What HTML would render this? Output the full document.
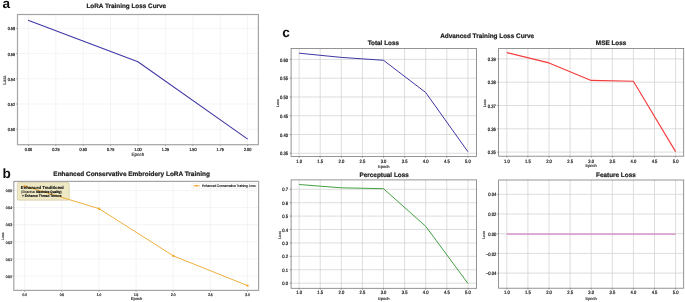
<!DOCTYPE html><html><head><meta charset="utf-8"><style>html,body{margin:0;padding:0;background:#fff;overflow:hidden;}svg{display:block;will-change:transform;text-rendering:geometricPrecision;}</style></head><body>
<svg width="685" height="302" viewBox="0 0 685 302" font-family="'Liberation Sans', sans-serif">
<rect width="685" height="302" fill="#fff"/>
<line x1="28.40" y1="14.50" x2="28.40" y2="144.70" stroke="#ececec" stroke-width="0.6" />
<line x1="55.80" y1="14.50" x2="55.80" y2="144.70" stroke="#ececec" stroke-width="0.6" />
<line x1="83.20" y1="14.50" x2="83.20" y2="144.70" stroke="#ececec" stroke-width="0.6" />
<line x1="110.60" y1="14.50" x2="110.60" y2="144.70" stroke="#ececec" stroke-width="0.6" />
<line x1="138.00" y1="14.50" x2="138.00" y2="144.70" stroke="#ececec" stroke-width="0.6" />
<line x1="165.40" y1="14.50" x2="165.40" y2="144.70" stroke="#ececec" stroke-width="0.6" />
<line x1="192.80" y1="14.50" x2="192.80" y2="144.70" stroke="#ececec" stroke-width="0.6" />
<line x1="220.20" y1="14.50" x2="220.20" y2="144.70" stroke="#ececec" stroke-width="0.6" />
<line x1="247.60" y1="14.50" x2="247.60" y2="144.70" stroke="#ececec" stroke-width="0.6" />
<line x1="17.50" y1="28.40" x2="258.40" y2="28.40" stroke="#ececec" stroke-width="0.6" />
<line x1="17.50" y1="53.60" x2="258.40" y2="53.60" stroke="#ececec" stroke-width="0.6" />
<line x1="17.50" y1="78.80" x2="258.40" y2="78.80" stroke="#ececec" stroke-width="0.6" />
<line x1="17.50" y1="104.00" x2="258.40" y2="104.00" stroke="#ececec" stroke-width="0.6" />
<line x1="17.50" y1="129.20" x2="258.40" y2="129.20" stroke="#ececec" stroke-width="0.6" />
<line x1="28.40" y1="144.70" x2="28.40" y2="146.00" stroke="#555" stroke-width="0.6" />
<line x1="55.80" y1="144.70" x2="55.80" y2="146.00" stroke="#555" stroke-width="0.6" />
<line x1="83.20" y1="144.70" x2="83.20" y2="146.00" stroke="#555" stroke-width="0.6" />
<line x1="110.60" y1="144.70" x2="110.60" y2="146.00" stroke="#555" stroke-width="0.6" />
<line x1="138.00" y1="144.70" x2="138.00" y2="146.00" stroke="#555" stroke-width="0.6" />
<line x1="165.40" y1="144.70" x2="165.40" y2="146.00" stroke="#555" stroke-width="0.6" />
<line x1="192.80" y1="144.70" x2="192.80" y2="146.00" stroke="#555" stroke-width="0.6" />
<line x1="220.20" y1="144.70" x2="220.20" y2="146.00" stroke="#555" stroke-width="0.6" />
<line x1="247.60" y1="144.70" x2="247.60" y2="146.00" stroke="#555" stroke-width="0.6" />
<line x1="16.20" y1="28.40" x2="17.50" y2="28.40" stroke="#555" stroke-width="0.6" />
<line x1="16.20" y1="53.60" x2="17.50" y2="53.60" stroke="#555" stroke-width="0.6" />
<line x1="16.20" y1="78.80" x2="17.50" y2="78.80" stroke="#555" stroke-width="0.6" />
<line x1="16.20" y1="104.00" x2="17.50" y2="104.00" stroke="#555" stroke-width="0.6" />
<line x1="16.20" y1="129.20" x2="17.50" y2="129.20" stroke="#555" stroke-width="0.6" />
<text x="0" y="0" transform="translate(28.40,150.90) scale(0.86,1)" font-size="4.4" text-anchor="middle" font-weight="normal" fill="#111" stroke="#111" stroke-width="0.2" >0.00</text>
<text x="0" y="0" transform="translate(55.80,150.90) scale(0.86,1)" font-size="4.4" text-anchor="middle" font-weight="normal" fill="#111" stroke="#111" stroke-width="0.2" >0.25</text>
<text x="0" y="0" transform="translate(83.20,150.90) scale(0.86,1)" font-size="4.4" text-anchor="middle" font-weight="normal" fill="#111" stroke="#111" stroke-width="0.2" >0.50</text>
<text x="0" y="0" transform="translate(110.60,150.90) scale(0.86,1)" font-size="4.4" text-anchor="middle" font-weight="normal" fill="#111" stroke="#111" stroke-width="0.2" >0.75</text>
<text x="0" y="0" transform="translate(138.00,150.90) scale(0.86,1)" font-size="4.4" text-anchor="middle" font-weight="normal" fill="#111" stroke="#111" stroke-width="0.2" >1.00</text>
<text x="0" y="0" transform="translate(165.40,150.90) scale(0.86,1)" font-size="4.4" text-anchor="middle" font-weight="normal" fill="#111" stroke="#111" stroke-width="0.2" >1.25</text>
<text x="0" y="0" transform="translate(192.80,150.90) scale(0.86,1)" font-size="4.4" text-anchor="middle" font-weight="normal" fill="#111" stroke="#111" stroke-width="0.2" >1.50</text>
<text x="0" y="0" transform="translate(220.20,150.90) scale(0.86,1)" font-size="4.4" text-anchor="middle" font-weight="normal" fill="#111" stroke="#111" stroke-width="0.2" >1.75</text>
<text x="0" y="0" transform="translate(247.60,150.90) scale(0.86,1)" font-size="4.4" text-anchor="middle" font-weight="normal" fill="#111" stroke="#111" stroke-width="0.2" >2.00</text>
<text x="0" y="0" transform="translate(15.00,30.38) scale(0.86,1)" font-size="4.4" text-anchor="end" font-weight="normal" fill="#111" stroke="#111" stroke-width="0.2" >0.58</text>
<text x="0" y="0" transform="translate(15.00,55.58) scale(0.86,1)" font-size="4.4" text-anchor="end" font-weight="normal" fill="#111" stroke="#111" stroke-width="0.2" >0.56</text>
<text x="0" y="0" transform="translate(15.00,80.78) scale(0.86,1)" font-size="4.4" text-anchor="end" font-weight="normal" fill="#111" stroke="#111" stroke-width="0.2" >0.54</text>
<text x="0" y="0" transform="translate(15.00,105.98) scale(0.86,1)" font-size="4.4" text-anchor="end" font-weight="normal" fill="#111" stroke="#111" stroke-width="0.2" >0.52</text>
<text x="0" y="0" transform="translate(15.00,131.18) scale(0.86,1)" font-size="4.4" text-anchor="end" font-weight="normal" fill="#111" stroke="#111" stroke-width="0.2" >0.50</text>
<rect x="17.50" y="14.50" width="240.90" height="130.20" fill="none" stroke="#a4a4a4" stroke-width="1.2"/>
<polyline points="28.10,20.30 137.90,61.70 247.70,139.10" fill="none" stroke="#3f37a4" stroke-width="1.05" stroke-linejoin="round" stroke-linecap="butt" />
<text x="126.30" y="8.00" font-size="6.37" text-anchor="middle" font-weight="bold" fill="#1a1a1a" stroke="#1a1a1a" stroke-width="0.2" >LoRA Training Loss Curve</text>
<text x="137.80" y="156.30" font-size="4.5" text-anchor="middle" font-weight="normal" fill="#2a2a2a" stroke="#2a2a2a" stroke-width="0.15" >Epoch</text>
<text x="0.00" y="0.00" font-size="4.5" text-anchor="middle" font-weight="normal" fill="#333" stroke="#333" stroke-width="0.13" transform="translate(5.6,80.1) rotate(-90) scale(0.92,1)">Loss</text>
<text x="2.50" y="8.00" font-size="13.6" text-anchor="start" font-weight="bold" fill="#111" >a</text>
<line x1="24.70" y1="181.40" x2="24.70" y2="290.40" stroke="#ececec" stroke-width="0.6" />
<line x1="61.83" y1="181.40" x2="61.83" y2="290.40" stroke="#ececec" stroke-width="0.6" />
<line x1="98.96" y1="181.40" x2="98.96" y2="290.40" stroke="#ececec" stroke-width="0.6" />
<line x1="136.09" y1="181.40" x2="136.09" y2="290.40" stroke="#ececec" stroke-width="0.6" />
<line x1="173.22" y1="181.40" x2="173.22" y2="290.40" stroke="#ececec" stroke-width="0.6" />
<line x1="210.35" y1="181.40" x2="210.35" y2="290.40" stroke="#ececec" stroke-width="0.6" />
<line x1="247.48" y1="181.40" x2="247.48" y2="290.40" stroke="#ececec" stroke-width="0.6" />
<line x1="13.80" y1="190.50" x2="258.60" y2="190.50" stroke="#ececec" stroke-width="0.6" />
<line x1="13.80" y1="207.60" x2="258.60" y2="207.60" stroke="#ececec" stroke-width="0.6" />
<line x1="13.80" y1="224.70" x2="258.60" y2="224.70" stroke="#ececec" stroke-width="0.6" />
<line x1="13.80" y1="241.80" x2="258.60" y2="241.80" stroke="#ececec" stroke-width="0.6" />
<line x1="13.80" y1="258.90" x2="258.60" y2="258.90" stroke="#ececec" stroke-width="0.6" />
<line x1="13.80" y1="276.00" x2="258.60" y2="276.00" stroke="#ececec" stroke-width="0.6" />
<line x1="24.70" y1="290.40" x2="24.70" y2="291.70" stroke="#555" stroke-width="0.6" />
<line x1="61.83" y1="290.40" x2="61.83" y2="291.70" stroke="#555" stroke-width="0.6" />
<line x1="98.96" y1="290.40" x2="98.96" y2="291.70" stroke="#555" stroke-width="0.6" />
<line x1="136.09" y1="290.40" x2="136.09" y2="291.70" stroke="#555" stroke-width="0.6" />
<line x1="173.22" y1="290.40" x2="173.22" y2="291.70" stroke="#555" stroke-width="0.6" />
<line x1="210.35" y1="290.40" x2="210.35" y2="291.70" stroke="#555" stroke-width="0.6" />
<line x1="247.48" y1="290.40" x2="247.48" y2="291.70" stroke="#555" stroke-width="0.6" />
<line x1="12.50" y1="190.50" x2="13.80" y2="190.50" stroke="#555" stroke-width="0.6" />
<line x1="12.50" y1="207.60" x2="13.80" y2="207.60" stroke="#555" stroke-width="0.6" />
<line x1="12.50" y1="224.70" x2="13.80" y2="224.70" stroke="#555" stroke-width="0.6" />
<line x1="12.50" y1="241.80" x2="13.80" y2="241.80" stroke="#555" stroke-width="0.6" />
<line x1="12.50" y1="258.90" x2="13.80" y2="258.90" stroke="#555" stroke-width="0.6" />
<line x1="12.50" y1="276.00" x2="13.80" y2="276.00" stroke="#555" stroke-width="0.6" />
<text x="0" y="0" transform="translate(24.70,295.60) scale(0.86,1)" font-size="3.7" text-anchor="middle" font-weight="normal" fill="#111" stroke="#111" stroke-width="0.2" >0.0</text>
<text x="0" y="0" transform="translate(61.83,295.60) scale(0.86,1)" font-size="3.7" text-anchor="middle" font-weight="normal" fill="#111" stroke="#111" stroke-width="0.2" >0.5</text>
<text x="0" y="0" transform="translate(98.96,295.60) scale(0.86,1)" font-size="3.7" text-anchor="middle" font-weight="normal" fill="#111" stroke="#111" stroke-width="0.2" >1.0</text>
<text x="0" y="0" transform="translate(136.09,295.60) scale(0.86,1)" font-size="3.7" text-anchor="middle" font-weight="normal" fill="#111" stroke="#111" stroke-width="0.2" >1.5</text>
<text x="0" y="0" transform="translate(173.22,295.60) scale(0.86,1)" font-size="3.7" text-anchor="middle" font-weight="normal" fill="#111" stroke="#111" stroke-width="0.2" >2.0</text>
<text x="0" y="0" transform="translate(210.35,295.60) scale(0.86,1)" font-size="3.7" text-anchor="middle" font-weight="normal" fill="#111" stroke="#111" stroke-width="0.2" >2.5</text>
<text x="0" y="0" transform="translate(247.48,295.60) scale(0.86,1)" font-size="3.7" text-anchor="middle" font-weight="normal" fill="#111" stroke="#111" stroke-width="0.2" >3.0</text>
<text x="0" y="0" transform="translate(11.90,192.23) scale(0.86,1)" font-size="3.7" text-anchor="end" font-weight="normal" fill="#111" stroke="#111" stroke-width="0.2" >0.55</text>
<text x="0" y="0" transform="translate(11.90,209.33) scale(0.86,1)" font-size="3.7" text-anchor="end" font-weight="normal" fill="#111" stroke="#111" stroke-width="0.2" >0.54</text>
<text x="0" y="0" transform="translate(11.90,226.43) scale(0.86,1)" font-size="3.7" text-anchor="end" font-weight="normal" fill="#111" stroke="#111" stroke-width="0.2" >0.53</text>
<text x="0" y="0" transform="translate(11.90,243.53) scale(0.86,1)" font-size="3.7" text-anchor="end" font-weight="normal" fill="#111" stroke="#111" stroke-width="0.2" >0.52</text>
<text x="0" y="0" transform="translate(11.90,260.63) scale(0.86,1)" font-size="3.7" text-anchor="end" font-weight="normal" fill="#111" stroke="#111" stroke-width="0.2" >0.51</text>
<text x="0" y="0" transform="translate(11.90,277.73) scale(0.86,1)" font-size="3.7" text-anchor="end" font-weight="normal" fill="#111" stroke="#111" stroke-width="0.2" >0.50</text>
<rect x="13.80" y="181.40" width="244.80" height="109.00" fill="none" stroke="#a4a4a4" stroke-width="1.2"/>
<rect x="17.3" y="182.6" width="52" height="17.6" rx="1.2" fill="#efe8c4" stroke="#cfc6a0" stroke-width="0.6"/>
<polyline points="24.60,186.10 99.10,208.70 173.40,255.90 247.50,285.60" fill="none" stroke="#efab35" stroke-width="0.95" stroke-linejoin="round" stroke-linecap="butt" />
<circle cx="24.6" cy="186.1" r="1.2" fill="#efab35"/>
<circle cx="99.1" cy="208.7" r="1.2" fill="#efab35"/>
<circle cx="173.4" cy="255.9" r="1.2" fill="#efab35"/>
<circle cx="247.5" cy="285.6" r="1.2" fill="#efab35"/>
<text x="131.60" y="175.50" font-size="6.46" text-anchor="middle" font-weight="bold" fill="#1a1a1a" stroke="#1a1a1a" stroke-width="0.2" >Enhanced Conservative Embroidery LoRA Training</text>
<text x="136.50" y="300.00" font-size="4.1" text-anchor="middle" font-weight="normal" fill="#2a2a2a" stroke="#2a2a2a" stroke-width="0.15" >Epoch</text>
<text x="0.00" y="0.00" font-size="3.5" text-anchor="middle" font-weight="normal" fill="#333" stroke="#333" stroke-width="0.15" transform="translate(4.1,236.3) rotate(-90)">Loss</text>
<text x="2.40" y="178.00" font-size="13.6" text-anchor="start" font-weight="bold" fill="#111" >b</text>
<text x="42.30" y="189.20" font-size="4.25" text-anchor="middle" font-weight="bold" fill="#111" stroke="#111" stroke-width="0.12">Enhanced Traditional</text>
<text x="0" y="0" transform="translate(41.3,193.35) scale(0.87,1)" font-size="3.45" text-anchor="middle" fill="#222" stroke="#222" stroke-width="0.1"><tspan font-weight="normal">(Objective: </tspan><tspan font-weight="bold" stroke-width="0.2" fill="#111" stroke="#111">Maximize Quality)</tspan></text>
<text x="0" y="0" transform="translate(41.70,197.00) scale(0.885,1)" font-size="3.6" text-anchor="middle" font-weight="bold" fill="#1a1a1a" stroke="#1a1a1a" stroke-width="0.14">+ Enhance Thread Texture</text>
<rect x="192" y="183.4" width="64.9" height="5" rx="0.6" fill="#fff" fill-opacity="0.9" stroke="#e4e4e4" stroke-width="0.4"/>
<line x1="193.20" y1="185.80" x2="199.80" y2="185.80" stroke="#efab35" stroke-width="1.0" />
<circle cx="196.5" cy="185.8" r="1.0" fill="#efab35"/>
<text x="0" y="0" transform="translate(201.90,186.80) scale(0.885,1)" font-size="3.6" text-anchor="start" font-weight="normal" fill="#222" stroke="#222" stroke-width="0.15" >Enhanced Conservative Training Loss</text>
<text x="282.30" y="37.30" font-size="13.6" text-anchor="start" font-weight="bold" fill="#111" >c</text>
<text x="487.20" y="37.60" font-size="6.42" text-anchor="middle" font-weight="bold" fill="#1a1a1a" stroke="#1a1a1a" stroke-width="0.2" >Advanced Training Loss Curve</text>
<line x1="299.10" y1="48.40" x2="299.10" y2="156.40" stroke="#d2d2d2" stroke-width="0.75" />
<line x1="320.20" y1="48.40" x2="320.20" y2="156.40" stroke="#d2d2d2" stroke-width="0.75" />
<line x1="341.30" y1="48.40" x2="341.30" y2="156.40" stroke="#d2d2d2" stroke-width="0.75" />
<line x1="362.40" y1="48.40" x2="362.40" y2="156.40" stroke="#d2d2d2" stroke-width="0.75" />
<line x1="383.50" y1="48.40" x2="383.50" y2="156.40" stroke="#d2d2d2" stroke-width="0.75" />
<line x1="404.60" y1="48.40" x2="404.60" y2="156.40" stroke="#d2d2d2" stroke-width="0.75" />
<line x1="425.70" y1="48.40" x2="425.70" y2="156.40" stroke="#d2d2d2" stroke-width="0.75" />
<line x1="446.80" y1="48.40" x2="446.80" y2="156.40" stroke="#d2d2d2" stroke-width="0.75" />
<line x1="467.90" y1="48.40" x2="467.90" y2="156.40" stroke="#d2d2d2" stroke-width="0.75" />
<line x1="291.10" y1="59.40" x2="476.40" y2="59.40" stroke="#d2d2d2" stroke-width="0.75" />
<line x1="291.10" y1="78.18" x2="476.40" y2="78.18" stroke="#d2d2d2" stroke-width="0.75" />
<line x1="291.10" y1="96.96" x2="476.40" y2="96.96" stroke="#d2d2d2" stroke-width="0.75" />
<line x1="291.10" y1="115.74" x2="476.40" y2="115.74" stroke="#d2d2d2" stroke-width="0.75" />
<line x1="291.10" y1="134.52" x2="476.40" y2="134.52" stroke="#d2d2d2" stroke-width="0.75" />
<line x1="291.10" y1="153.30" x2="476.40" y2="153.30" stroke="#d2d2d2" stroke-width="0.75" />
<line x1="299.10" y1="156.40" x2="299.10" y2="157.70" stroke="#444" stroke-width="0.6" />
<line x1="320.20" y1="156.40" x2="320.20" y2="157.70" stroke="#444" stroke-width="0.6" />
<line x1="341.30" y1="156.40" x2="341.30" y2="157.70" stroke="#444" stroke-width="0.6" />
<line x1="362.40" y1="156.40" x2="362.40" y2="157.70" stroke="#444" stroke-width="0.6" />
<line x1="383.50" y1="156.40" x2="383.50" y2="157.70" stroke="#444" stroke-width="0.6" />
<line x1="404.60" y1="156.40" x2="404.60" y2="157.70" stroke="#444" stroke-width="0.6" />
<line x1="425.70" y1="156.40" x2="425.70" y2="157.70" stroke="#444" stroke-width="0.6" />
<line x1="446.80" y1="156.40" x2="446.80" y2="157.70" stroke="#444" stroke-width="0.6" />
<line x1="467.90" y1="156.40" x2="467.90" y2="157.70" stroke="#444" stroke-width="0.6" />
<line x1="289.80" y1="59.40" x2="291.10" y2="59.40" stroke="#444" stroke-width="0.6" />
<line x1="289.80" y1="78.18" x2="291.10" y2="78.18" stroke="#444" stroke-width="0.6" />
<line x1="289.80" y1="96.96" x2="291.10" y2="96.96" stroke="#444" stroke-width="0.6" />
<line x1="289.80" y1="115.74" x2="291.10" y2="115.74" stroke="#444" stroke-width="0.6" />
<line x1="289.80" y1="134.52" x2="291.10" y2="134.52" stroke="#444" stroke-width="0.6" />
<line x1="289.80" y1="153.30" x2="291.10" y2="153.30" stroke="#444" stroke-width="0.6" />
<text x="0" y="0" transform="translate(299.10,162.80) scale(0.86,1)" font-size="4.8" text-anchor="middle" font-weight="normal" fill="#111" stroke="#111" stroke-width="0.2" >1.0</text>
<text x="0" y="0" transform="translate(320.20,162.80) scale(0.86,1)" font-size="4.8" text-anchor="middle" font-weight="normal" fill="#111" stroke="#111" stroke-width="0.2" >1.5</text>
<text x="0" y="0" transform="translate(341.30,162.80) scale(0.86,1)" font-size="4.8" text-anchor="middle" font-weight="normal" fill="#111" stroke="#111" stroke-width="0.2" >2.0</text>
<text x="0" y="0" transform="translate(362.40,162.80) scale(0.86,1)" font-size="4.8" text-anchor="middle" font-weight="normal" fill="#111" stroke="#111" stroke-width="0.2" >2.5</text>
<text x="0" y="0" transform="translate(383.50,162.80) scale(0.86,1)" font-size="4.8" text-anchor="middle" font-weight="normal" fill="#111" stroke="#111" stroke-width="0.2" >3.0</text>
<text x="0" y="0" transform="translate(404.60,162.80) scale(0.86,1)" font-size="4.8" text-anchor="middle" font-weight="normal" fill="#111" stroke="#111" stroke-width="0.2" >3.5</text>
<text x="0" y="0" transform="translate(425.70,162.80) scale(0.86,1)" font-size="4.8" text-anchor="middle" font-weight="normal" fill="#111" stroke="#111" stroke-width="0.2" >4.0</text>
<text x="0" y="0" transform="translate(446.80,162.80) scale(0.86,1)" font-size="4.8" text-anchor="middle" font-weight="normal" fill="#111" stroke="#111" stroke-width="0.2" >4.5</text>
<text x="0" y="0" transform="translate(467.90,162.80) scale(0.86,1)" font-size="4.8" text-anchor="middle" font-weight="normal" fill="#111" stroke="#111" stroke-width="0.2" >5.0</text>
<text x="0" y="0" transform="translate(288.00,61.53) scale(0.86,1)" font-size="4.8" text-anchor="end" font-weight="normal" fill="#111" stroke="#111" stroke-width="0.2" >0.60</text>
<text x="0" y="0" transform="translate(288.00,80.31) scale(0.86,1)" font-size="4.8" text-anchor="end" font-weight="normal" fill="#111" stroke="#111" stroke-width="0.2" >0.55</text>
<text x="0" y="0" transform="translate(288.00,99.09) scale(0.86,1)" font-size="4.8" text-anchor="end" font-weight="normal" fill="#111" stroke="#111" stroke-width="0.2" >0.50</text>
<text x="0" y="0" transform="translate(288.00,117.87) scale(0.86,1)" font-size="4.8" text-anchor="end" font-weight="normal" fill="#111" stroke="#111" stroke-width="0.2" >0.45</text>
<text x="0" y="0" transform="translate(288.00,136.65) scale(0.86,1)" font-size="4.8" text-anchor="end" font-weight="normal" fill="#111" stroke="#111" stroke-width="0.2" >0.40</text>
<text x="0" y="0" transform="translate(288.00,155.43) scale(0.86,1)" font-size="4.8" text-anchor="end" font-weight="normal" fill="#111" stroke="#111" stroke-width="0.2" >0.35</text>
<rect x="291.10" y="48.40" width="185.30" height="108.00" fill="none" stroke="#7a7a7a" stroke-width="0.8"/>
<polyline points="299.10,53.20 341.30,57.40 383.50,60.30 425.70,92.50 467.90,151.70" fill="none" stroke="#3f37a4" stroke-width="1.0" stroke-linejoin="round" stroke-linecap="butt" />
<text x="383.35" y="44.60" font-size="6.38" text-anchor="middle" font-weight="bold" fill="#1a1a1a" stroke="#1a1a1a" stroke-width="0.2" >Total Loss</text>
<text x="383.75" y="167.60" font-size="4.0" text-anchor="middle" font-weight="normal" fill="#2a2a2a" stroke="#2a2a2a" stroke-width="0.15" >Epoch</text>
<text x="0.00" y="0.00" font-size="3.8" text-anchor="middle" font-weight="normal" fill="#333" stroke="#333" stroke-width="0.12" transform="translate(278.60,103.20) rotate(-90)">Loss</text>
<line x1="506.80" y1="48.40" x2="506.80" y2="156.20" stroke="#d2d2d2" stroke-width="0.75" />
<line x1="527.90" y1="48.40" x2="527.90" y2="156.20" stroke="#d2d2d2" stroke-width="0.75" />
<line x1="549.00" y1="48.40" x2="549.00" y2="156.20" stroke="#d2d2d2" stroke-width="0.75" />
<line x1="570.10" y1="48.40" x2="570.10" y2="156.20" stroke="#d2d2d2" stroke-width="0.75" />
<line x1="591.20" y1="48.40" x2="591.20" y2="156.20" stroke="#d2d2d2" stroke-width="0.75" />
<line x1="612.30" y1="48.40" x2="612.30" y2="156.20" stroke="#d2d2d2" stroke-width="0.75" />
<line x1="633.40" y1="48.40" x2="633.40" y2="156.20" stroke="#d2d2d2" stroke-width="0.75" />
<line x1="654.50" y1="48.40" x2="654.50" y2="156.20" stroke="#d2d2d2" stroke-width="0.75" />
<line x1="675.60" y1="48.40" x2="675.60" y2="156.20" stroke="#d2d2d2" stroke-width="0.75" />
<line x1="498.60" y1="58.90" x2="683.70" y2="58.90" stroke="#d2d2d2" stroke-width="0.75" />
<line x1="498.60" y1="82.20" x2="683.70" y2="82.20" stroke="#d2d2d2" stroke-width="0.75" />
<line x1="498.60" y1="105.50" x2="683.70" y2="105.50" stroke="#d2d2d2" stroke-width="0.75" />
<line x1="498.60" y1="128.80" x2="683.70" y2="128.80" stroke="#d2d2d2" stroke-width="0.75" />
<line x1="498.60" y1="152.10" x2="683.70" y2="152.10" stroke="#d2d2d2" stroke-width="0.75" />
<line x1="506.80" y1="156.20" x2="506.80" y2="157.50" stroke="#444" stroke-width="0.6" />
<line x1="527.90" y1="156.20" x2="527.90" y2="157.50" stroke="#444" stroke-width="0.6" />
<line x1="549.00" y1="156.20" x2="549.00" y2="157.50" stroke="#444" stroke-width="0.6" />
<line x1="570.10" y1="156.20" x2="570.10" y2="157.50" stroke="#444" stroke-width="0.6" />
<line x1="591.20" y1="156.20" x2="591.20" y2="157.50" stroke="#444" stroke-width="0.6" />
<line x1="612.30" y1="156.20" x2="612.30" y2="157.50" stroke="#444" stroke-width="0.6" />
<line x1="633.40" y1="156.20" x2="633.40" y2="157.50" stroke="#444" stroke-width="0.6" />
<line x1="654.50" y1="156.20" x2="654.50" y2="157.50" stroke="#444" stroke-width="0.6" />
<line x1="675.60" y1="156.20" x2="675.60" y2="157.50" stroke="#444" stroke-width="0.6" />
<line x1="497.30" y1="58.90" x2="498.60" y2="58.90" stroke="#444" stroke-width="0.6" />
<line x1="497.30" y1="82.20" x2="498.60" y2="82.20" stroke="#444" stroke-width="0.6" />
<line x1="497.30" y1="105.50" x2="498.60" y2="105.50" stroke="#444" stroke-width="0.6" />
<line x1="497.30" y1="128.80" x2="498.60" y2="128.80" stroke="#444" stroke-width="0.6" />
<line x1="497.30" y1="152.10" x2="498.60" y2="152.10" stroke="#444" stroke-width="0.6" />
<text x="0" y="0" transform="translate(506.80,162.60) scale(0.86,1)" font-size="4.8" text-anchor="middle" font-weight="normal" fill="#111" stroke="#111" stroke-width="0.2" >1.0</text>
<text x="0" y="0" transform="translate(527.90,162.60) scale(0.86,1)" font-size="4.8" text-anchor="middle" font-weight="normal" fill="#111" stroke="#111" stroke-width="0.2" >1.5</text>
<text x="0" y="0" transform="translate(549.00,162.60) scale(0.86,1)" font-size="4.8" text-anchor="middle" font-weight="normal" fill="#111" stroke="#111" stroke-width="0.2" >2.0</text>
<text x="0" y="0" transform="translate(570.10,162.60) scale(0.86,1)" font-size="4.8" text-anchor="middle" font-weight="normal" fill="#111" stroke="#111" stroke-width="0.2" >2.5</text>
<text x="0" y="0" transform="translate(591.20,162.60) scale(0.86,1)" font-size="4.8" text-anchor="middle" font-weight="normal" fill="#111" stroke="#111" stroke-width="0.2" >3.0</text>
<text x="0" y="0" transform="translate(612.30,162.60) scale(0.86,1)" font-size="4.8" text-anchor="middle" font-weight="normal" fill="#111" stroke="#111" stroke-width="0.2" >3.5</text>
<text x="0" y="0" transform="translate(633.40,162.60) scale(0.86,1)" font-size="4.8" text-anchor="middle" font-weight="normal" fill="#111" stroke="#111" stroke-width="0.2" >4.0</text>
<text x="0" y="0" transform="translate(654.50,162.60) scale(0.86,1)" font-size="4.8" text-anchor="middle" font-weight="normal" fill="#111" stroke="#111" stroke-width="0.2" >4.5</text>
<text x="0" y="0" transform="translate(675.60,162.60) scale(0.86,1)" font-size="4.8" text-anchor="middle" font-weight="normal" fill="#111" stroke="#111" stroke-width="0.2" >5.0</text>
<text x="0" y="0" transform="translate(495.80,61.03) scale(0.86,1)" font-size="4.8" text-anchor="end" font-weight="normal" fill="#111" stroke="#111" stroke-width="0.2" >0.39</text>
<text x="0" y="0" transform="translate(495.80,84.33) scale(0.86,1)" font-size="4.8" text-anchor="end" font-weight="normal" fill="#111" stroke="#111" stroke-width="0.2" >0.38</text>
<text x="0" y="0" transform="translate(495.80,107.63) scale(0.86,1)" font-size="4.8" text-anchor="end" font-weight="normal" fill="#111" stroke="#111" stroke-width="0.2" >0.37</text>
<text x="0" y="0" transform="translate(495.80,130.93) scale(0.86,1)" font-size="4.8" text-anchor="end" font-weight="normal" fill="#111" stroke="#111" stroke-width="0.2" >0.36</text>
<text x="0" y="0" transform="translate(495.80,154.23) scale(0.86,1)" font-size="4.8" text-anchor="end" font-weight="normal" fill="#111" stroke="#111" stroke-width="0.2" >0.35</text>
<rect x="498.60" y="48.40" width="185.10" height="107.80" fill="none" stroke="#7a7a7a" stroke-width="0.8"/>
<polyline points="506.80,52.60 549.00,62.90 591.20,80.40 633.40,81.20 675.60,151.60" fill="none" stroke="#f53a3a" stroke-width="1.1" stroke-linejoin="round" stroke-linecap="butt" />
<text x="611.10" y="44.70" font-size="6.38" text-anchor="middle" font-weight="bold" fill="#1a1a1a" stroke="#1a1a1a" stroke-width="0.2" >MSE Loss</text>
<text x="591.15" y="167.40" font-size="4.0" text-anchor="middle" font-weight="normal" fill="#2a2a2a" stroke="#2a2a2a" stroke-width="0.15" >Epoch</text>
<text x="0.00" y="0.00" font-size="3.8" text-anchor="middle" font-weight="normal" fill="#333" stroke="#333" stroke-width="0.12" transform="translate(485.90,103.30) rotate(-90)">Loss</text>
<line x1="299.10" y1="179.90" x2="299.10" y2="288.30" stroke="#d2d2d2" stroke-width="0.75" />
<line x1="320.20" y1="179.90" x2="320.20" y2="288.30" stroke="#d2d2d2" stroke-width="0.75" />
<line x1="341.30" y1="179.90" x2="341.30" y2="288.30" stroke="#d2d2d2" stroke-width="0.75" />
<line x1="362.40" y1="179.90" x2="362.40" y2="288.30" stroke="#d2d2d2" stroke-width="0.75" />
<line x1="383.50" y1="179.90" x2="383.50" y2="288.30" stroke="#d2d2d2" stroke-width="0.75" />
<line x1="404.60" y1="179.90" x2="404.60" y2="288.30" stroke="#d2d2d2" stroke-width="0.75" />
<line x1="425.70" y1="179.90" x2="425.70" y2="288.30" stroke="#d2d2d2" stroke-width="0.75" />
<line x1="446.80" y1="179.90" x2="446.80" y2="288.30" stroke="#d2d2d2" stroke-width="0.75" />
<line x1="467.90" y1="179.90" x2="467.90" y2="288.30" stroke="#d2d2d2" stroke-width="0.75" />
<line x1="291.10" y1="189.30" x2="476.60" y2="189.30" stroke="#d2d2d2" stroke-width="0.75" />
<line x1="291.10" y1="202.71" x2="476.60" y2="202.71" stroke="#d2d2d2" stroke-width="0.75" />
<line x1="291.10" y1="216.12" x2="476.60" y2="216.12" stroke="#d2d2d2" stroke-width="0.75" />
<line x1="291.10" y1="229.53" x2="476.60" y2="229.53" stroke="#d2d2d2" stroke-width="0.75" />
<line x1="291.10" y1="242.94" x2="476.60" y2="242.94" stroke="#d2d2d2" stroke-width="0.75" />
<line x1="291.10" y1="256.35" x2="476.60" y2="256.35" stroke="#d2d2d2" stroke-width="0.75" />
<line x1="291.10" y1="269.76" x2="476.60" y2="269.76" stroke="#d2d2d2" stroke-width="0.75" />
<line x1="291.10" y1="283.17" x2="476.60" y2="283.17" stroke="#d2d2d2" stroke-width="0.75" />
<line x1="299.10" y1="288.30" x2="299.10" y2="289.60" stroke="#444" stroke-width="0.6" />
<line x1="320.20" y1="288.30" x2="320.20" y2="289.60" stroke="#444" stroke-width="0.6" />
<line x1="341.30" y1="288.30" x2="341.30" y2="289.60" stroke="#444" stroke-width="0.6" />
<line x1="362.40" y1="288.30" x2="362.40" y2="289.60" stroke="#444" stroke-width="0.6" />
<line x1="383.50" y1="288.30" x2="383.50" y2="289.60" stroke="#444" stroke-width="0.6" />
<line x1="404.60" y1="288.30" x2="404.60" y2="289.60" stroke="#444" stroke-width="0.6" />
<line x1="425.70" y1="288.30" x2="425.70" y2="289.60" stroke="#444" stroke-width="0.6" />
<line x1="446.80" y1="288.30" x2="446.80" y2="289.60" stroke="#444" stroke-width="0.6" />
<line x1="467.90" y1="288.30" x2="467.90" y2="289.60" stroke="#444" stroke-width="0.6" />
<line x1="289.80" y1="189.30" x2="291.10" y2="189.30" stroke="#444" stroke-width="0.6" />
<line x1="289.80" y1="202.71" x2="291.10" y2="202.71" stroke="#444" stroke-width="0.6" />
<line x1="289.80" y1="216.12" x2="291.10" y2="216.12" stroke="#444" stroke-width="0.6" />
<line x1="289.80" y1="229.53" x2="291.10" y2="229.53" stroke="#444" stroke-width="0.6" />
<line x1="289.80" y1="242.94" x2="291.10" y2="242.94" stroke="#444" stroke-width="0.6" />
<line x1="289.80" y1="256.35" x2="291.10" y2="256.35" stroke="#444" stroke-width="0.6" />
<line x1="289.80" y1="269.76" x2="291.10" y2="269.76" stroke="#444" stroke-width="0.6" />
<line x1="289.80" y1="283.17" x2="291.10" y2="283.17" stroke="#444" stroke-width="0.6" />
<text x="0" y="0" transform="translate(299.10,294.30) scale(0.86,1)" font-size="4.8" text-anchor="middle" font-weight="normal" fill="#111" stroke="#111" stroke-width="0.2" >1.0</text>
<text x="0" y="0" transform="translate(320.20,294.30) scale(0.86,1)" font-size="4.8" text-anchor="middle" font-weight="normal" fill="#111" stroke="#111" stroke-width="0.2" >1.5</text>
<text x="0" y="0" transform="translate(341.30,294.30) scale(0.86,1)" font-size="4.8" text-anchor="middle" font-weight="normal" fill="#111" stroke="#111" stroke-width="0.2" >2.0</text>
<text x="0" y="0" transform="translate(362.40,294.30) scale(0.86,1)" font-size="4.8" text-anchor="middle" font-weight="normal" fill="#111" stroke="#111" stroke-width="0.2" >2.5</text>
<text x="0" y="0" transform="translate(383.50,294.30) scale(0.86,1)" font-size="4.8" text-anchor="middle" font-weight="normal" fill="#111" stroke="#111" stroke-width="0.2" >3.0</text>
<text x="0" y="0" transform="translate(404.60,294.30) scale(0.86,1)" font-size="4.8" text-anchor="middle" font-weight="normal" fill="#111" stroke="#111" stroke-width="0.2" >3.5</text>
<text x="0" y="0" transform="translate(425.70,294.30) scale(0.86,1)" font-size="4.8" text-anchor="middle" font-weight="normal" fill="#111" stroke="#111" stroke-width="0.2" >4.0</text>
<text x="0" y="0" transform="translate(446.80,294.30) scale(0.86,1)" font-size="4.8" text-anchor="middle" font-weight="normal" fill="#111" stroke="#111" stroke-width="0.2" >4.5</text>
<text x="0" y="0" transform="translate(467.90,294.30) scale(0.86,1)" font-size="4.8" text-anchor="middle" font-weight="normal" fill="#111" stroke="#111" stroke-width="0.2" >5.0</text>
<text x="0" y="0" transform="translate(288.00,191.43) scale(0.86,1)" font-size="4.8" text-anchor="end" font-weight="normal" fill="#111" stroke="#111" stroke-width="0.2" >0.7</text>
<text x="0" y="0" transform="translate(288.00,204.84) scale(0.86,1)" font-size="4.8" text-anchor="end" font-weight="normal" fill="#111" stroke="#111" stroke-width="0.2" >0.6</text>
<text x="0" y="0" transform="translate(288.00,218.25) scale(0.86,1)" font-size="4.8" text-anchor="end" font-weight="normal" fill="#111" stroke="#111" stroke-width="0.2" >0.5</text>
<text x="0" y="0" transform="translate(288.00,231.66) scale(0.86,1)" font-size="4.8" text-anchor="end" font-weight="normal" fill="#111" stroke="#111" stroke-width="0.2" >0.4</text>
<text x="0" y="0" transform="translate(288.00,245.07) scale(0.86,1)" font-size="4.8" text-anchor="end" font-weight="normal" fill="#111" stroke="#111" stroke-width="0.2" >0.3</text>
<text x="0" y="0" transform="translate(288.00,258.48) scale(0.86,1)" font-size="4.8" text-anchor="end" font-weight="normal" fill="#111" stroke="#111" stroke-width="0.2" >0.2</text>
<text x="0" y="0" transform="translate(288.00,271.89) scale(0.86,1)" font-size="4.8" text-anchor="end" font-weight="normal" fill="#111" stroke="#111" stroke-width="0.2" >0.1</text>
<text x="0" y="0" transform="translate(288.00,285.30) scale(0.86,1)" font-size="4.8" text-anchor="end" font-weight="normal" fill="#111" stroke="#111" stroke-width="0.2" >0.0</text>
<rect x="291.10" y="179.90" width="185.50" height="108.40" fill="none" stroke="#7a7a7a" stroke-width="0.8"/>
<polyline points="299.10,184.50 341.30,187.80 383.50,188.70 425.70,226.30 467.90,283.40" fill="none" stroke="#45a045" stroke-width="1.0" stroke-linejoin="round" stroke-linecap="butt" />
<text x="384.15" y="176.70" font-size="6.38" text-anchor="middle" font-weight="bold" fill="#1a1a1a" stroke="#1a1a1a" stroke-width="0.2" >Perceptual Loss</text>
<text x="383.85" y="299.90" font-size="4.0" text-anchor="middle" font-weight="normal" fill="#2a2a2a" stroke="#2a2a2a" stroke-width="0.15" >Epoch</text>
<text x="0.00" y="0.00" font-size="3.8" text-anchor="middle" font-weight="normal" fill="#333" stroke="#333" stroke-width="0.12" transform="translate(280.70,234.80) rotate(-90)">Loss</text>
<line x1="506.80" y1="180.00" x2="506.80" y2="288.20" stroke="#d2d2d2" stroke-width="0.75" />
<line x1="527.90" y1="180.00" x2="527.90" y2="288.20" stroke="#d2d2d2" stroke-width="0.75" />
<line x1="549.00" y1="180.00" x2="549.00" y2="288.20" stroke="#d2d2d2" stroke-width="0.75" />
<line x1="570.10" y1="180.00" x2="570.10" y2="288.20" stroke="#d2d2d2" stroke-width="0.75" />
<line x1="591.20" y1="180.00" x2="591.20" y2="288.20" stroke="#d2d2d2" stroke-width="0.75" />
<line x1="612.30" y1="180.00" x2="612.30" y2="288.20" stroke="#d2d2d2" stroke-width="0.75" />
<line x1="633.40" y1="180.00" x2="633.40" y2="288.20" stroke="#d2d2d2" stroke-width="0.75" />
<line x1="654.50" y1="180.00" x2="654.50" y2="288.20" stroke="#d2d2d2" stroke-width="0.75" />
<line x1="675.60" y1="180.00" x2="675.60" y2="288.20" stroke="#d2d2d2" stroke-width="0.75" />
<line x1="498.60" y1="194.30" x2="683.70" y2="194.30" stroke="#d2d2d2" stroke-width="0.75" />
<line x1="498.60" y1="214.00" x2="683.70" y2="214.00" stroke="#d2d2d2" stroke-width="0.75" />
<line x1="498.60" y1="233.70" x2="683.70" y2="233.70" stroke="#d2d2d2" stroke-width="0.75" />
<line x1="498.60" y1="253.40" x2="683.70" y2="253.40" stroke="#d2d2d2" stroke-width="0.75" />
<line x1="498.60" y1="273.10" x2="683.70" y2="273.10" stroke="#d2d2d2" stroke-width="0.75" />
<line x1="506.80" y1="288.20" x2="506.80" y2="289.50" stroke="#444" stroke-width="0.6" />
<line x1="527.90" y1="288.20" x2="527.90" y2="289.50" stroke="#444" stroke-width="0.6" />
<line x1="549.00" y1="288.20" x2="549.00" y2="289.50" stroke="#444" stroke-width="0.6" />
<line x1="570.10" y1="288.20" x2="570.10" y2="289.50" stroke="#444" stroke-width="0.6" />
<line x1="591.20" y1="288.20" x2="591.20" y2="289.50" stroke="#444" stroke-width="0.6" />
<line x1="612.30" y1="288.20" x2="612.30" y2="289.50" stroke="#444" stroke-width="0.6" />
<line x1="633.40" y1="288.20" x2="633.40" y2="289.50" stroke="#444" stroke-width="0.6" />
<line x1="654.50" y1="288.20" x2="654.50" y2="289.50" stroke="#444" stroke-width="0.6" />
<line x1="675.60" y1="288.20" x2="675.60" y2="289.50" stroke="#444" stroke-width="0.6" />
<line x1="497.30" y1="194.30" x2="498.60" y2="194.30" stroke="#444" stroke-width="0.6" />
<line x1="497.30" y1="214.00" x2="498.60" y2="214.00" stroke="#444" stroke-width="0.6" />
<line x1="497.30" y1="233.70" x2="498.60" y2="233.70" stroke="#444" stroke-width="0.6" />
<line x1="497.30" y1="253.40" x2="498.60" y2="253.40" stroke="#444" stroke-width="0.6" />
<line x1="497.30" y1="273.10" x2="498.60" y2="273.10" stroke="#444" stroke-width="0.6" />
<text x="0" y="0" transform="translate(506.80,294.20) scale(0.86,1)" font-size="4.8" text-anchor="middle" font-weight="normal" fill="#111" stroke="#111" stroke-width="0.2" >1.0</text>
<text x="0" y="0" transform="translate(527.90,294.20) scale(0.86,1)" font-size="4.8" text-anchor="middle" font-weight="normal" fill="#111" stroke="#111" stroke-width="0.2" >1.5</text>
<text x="0" y="0" transform="translate(549.00,294.20) scale(0.86,1)" font-size="4.8" text-anchor="middle" font-weight="normal" fill="#111" stroke="#111" stroke-width="0.2" >2.0</text>
<text x="0" y="0" transform="translate(570.10,294.20) scale(0.86,1)" font-size="4.8" text-anchor="middle" font-weight="normal" fill="#111" stroke="#111" stroke-width="0.2" >2.5</text>
<text x="0" y="0" transform="translate(591.20,294.20) scale(0.86,1)" font-size="4.8" text-anchor="middle" font-weight="normal" fill="#111" stroke="#111" stroke-width="0.2" >3.0</text>
<text x="0" y="0" transform="translate(612.30,294.20) scale(0.86,1)" font-size="4.8" text-anchor="middle" font-weight="normal" fill="#111" stroke="#111" stroke-width="0.2" >3.5</text>
<text x="0" y="0" transform="translate(633.40,294.20) scale(0.86,1)" font-size="4.8" text-anchor="middle" font-weight="normal" fill="#111" stroke="#111" stroke-width="0.2" >4.0</text>
<text x="0" y="0" transform="translate(654.50,294.20) scale(0.86,1)" font-size="4.8" text-anchor="middle" font-weight="normal" fill="#111" stroke="#111" stroke-width="0.2" >4.5</text>
<text x="0" y="0" transform="translate(675.60,294.20) scale(0.86,1)" font-size="4.8" text-anchor="middle" font-weight="normal" fill="#111" stroke="#111" stroke-width="0.2" >5.0</text>
<text x="0" y="0" transform="translate(496.30,196.43) scale(0.86,1)" font-size="4.8" text-anchor="end" font-weight="normal" fill="#111" stroke="#111" stroke-width="0.2" >0.04</text>
<text x="0" y="0" transform="translate(496.30,216.13) scale(0.86,1)" font-size="4.8" text-anchor="end" font-weight="normal" fill="#111" stroke="#111" stroke-width="0.2" >0.02</text>
<text x="0" y="0" transform="translate(496.30,235.83) scale(0.86,1)" font-size="4.8" text-anchor="end" font-weight="normal" fill="#111" stroke="#111" stroke-width="0.2" >0.00</text>
<text x="0" y="0" transform="translate(496.30,255.53) scale(0.86,1)" font-size="4.8" text-anchor="end" font-weight="normal" fill="#111" stroke="#111" stroke-width="0.2" >−0.02</text>
<text x="0" y="0" transform="translate(496.30,275.23) scale(0.86,1)" font-size="4.8" text-anchor="end" font-weight="normal" fill="#111" stroke="#111" stroke-width="0.2" >−0.04</text>
<rect x="498.60" y="180.00" width="185.10" height="108.20" fill="none" stroke="#7a7a7a" stroke-width="0.8"/>
<polyline points="506.80,234.10 549.00,234.10 591.20,234.10 633.40,234.10 675.60,234.10" fill="none" stroke="#d884c8" stroke-width="1.2" stroke-linejoin="round" stroke-linecap="butt" />
<text x="615.90" y="176.50" font-size="6.38" text-anchor="middle" font-weight="bold" fill="#1a1a1a" stroke="#1a1a1a" stroke-width="0.2" >Feature Loss</text>
<text x="591.15" y="299.80" font-size="4.0" text-anchor="middle" font-weight="normal" fill="#2a2a2a" stroke="#2a2a2a" stroke-width="0.15" >Epoch</text>
<text x="0.00" y="0.00" font-size="3.8" text-anchor="middle" font-weight="normal" fill="#333" stroke="#333" stroke-width="0.12" transform="translate(484.60,234.80) rotate(-90)">Loss</text>
</svg></body></html>
